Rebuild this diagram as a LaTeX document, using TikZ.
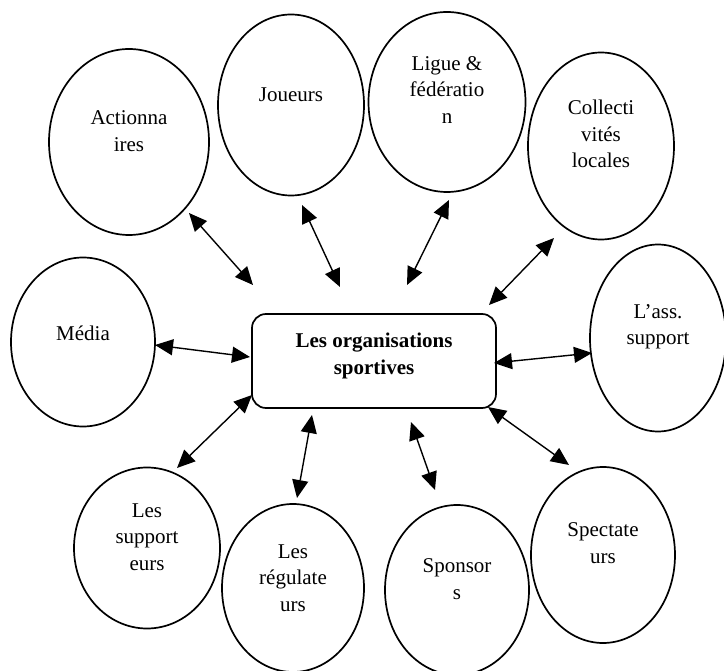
\documentclass[tikz,border=0pt]{standalone}
\usepackage{fontspec}
\setmainfont{Liberation Serif}
\usetikzlibrary{shapes.geometric, arrows.meta}

\begin{document}
\begin{tikzpicture}[x=1pt, y=-1pt,
    actor/.style={ellipse, draw, line width=1.7pt, inner sep=0pt},
    txt/.style={align=center, inner sep=0pt, font=\fontsize{21}{26.5}\selectfont},
    link/.style={line width=1.4pt, {Triangle[length=18pt,width=16pt]}-{Triangle[length=18pt,width=16pt]}}]
    \useasboundingbox (0,0) rectangle (724,671);

    % centre
    \node [draw, rounded corners=14pt, line width=1.7pt, minimum width=244pt, minimum height=94pt] (org) at (374,361) {};
    \node [txt, font=\fontsize{21}{26.5}\selectfont\bfseries] (orgtxt) at ([yshift=5pt]org.center) {Les organisations\\sportives};

    % the parties
    \node [actor, minimum width=160pt, minimum height=186pt] (act) at (129,142) {};
    \node [txt] (acttxt) at ([yshift=11pt]act.center) {Actionna\\ires};
    \node [actor, minimum width=146pt, minimum height=181pt] (jou) at (291,105) {};
    \node [txt] (joutxt) at ([yshift=10pt]jou.center) {Joueurs};
    \node [actor, minimum width=157pt, minimum height=180pt] (lig) at (447,102) {};
    \node [txt] (ligtxt) at ([yshift=12pt]lig.center) {Ligue \&\\fédératio\\n};
    \node [actor, minimum width=146pt, minimum height=187pt] (col) at (601,146) {};
    \node [txt] (coltxt) at ([yshift=12pt]col.center) {Collecti\\vités\\locales};
    \node [actor, minimum width=136pt, minimum height=187pt] (ass) at (658,338) {};
    \node [txt] (asstxt) at ([yshift=11pt]ass.center) {L’ass.\\support};
    \node [actor, minimum width=144pt, minimum height=169pt] (med) at (83,342) {};
    \node [txt] (medtxt) at ([yshift=9pt]med.center) {Média};
    \node [actor, minimum width=146pt, minimum height=161pt] (sup) at (147,548) {};
    \node [txt] (suptxt) at ([yshift=11pt]sup.center) {Les\\support\\eurs};
    \node [actor, minimum width=142pt, minimum height=168pt] (reg) at (293,588) {};
    \node [txt] (regtxt) at ([yshift=10pt]reg.center) {Les\\régulate\\urs};
    \node [actor, minimum width=144pt, minimum height=170pt] (spo) at (457,590) {};
    \node [txt] (spotxt) at ([yshift=11pt]spo.center) {Sponsor\\s};
    \node [actor, minimum width=144pt, minimum height=176pt] (spe) at (603,555) {};
    \node [txt] (spetxt) at ([yshift=12pt]spe.center) {Spectate\\urs};

    % arrow ends
    \coordinate (act-a) at (189,213);  \coordinate (act-b) at (253,285);
    \coordinate (jou-a) at (302,205);  \coordinate (jou-b) at (340,287);
    \coordinate (lig-a) at (449,200);  \coordinate (lig-b) at (407,285);
    \coordinate (col-a) at (554,238);  \coordinate (col-b) at (489,305);
    \coordinate (med-a) at (155,345);  \coordinate (med-b) at (250,357);
    \coordinate (ass-a) at (592,353);  \coordinate (ass-b) at (494,363);
    \coordinate (sup-a) at (177,468);  \coordinate (sup-b) at (252,395);
    \coordinate (reg-a) at (297,498);  \coordinate (reg-b) at (312,415);
    \coordinate (spo-a) at (435,490);  \coordinate (spo-b) at (411,422);
    \coordinate (spe-a) at (569,465);  \coordinate (spe-b) at (488,407);

    \foreach \p in {act, jou, lig, col, med, ass, sup, reg, spo, spe}
        \draw [link] (\p-a) -- (\p-b);
\end{tikzpicture}
\end{document}
